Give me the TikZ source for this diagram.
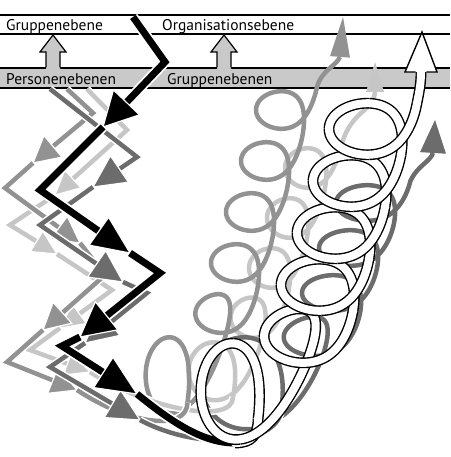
\documentclass[tikz,border=0pt]{standalone}
\usepackage{fontspec}
\setmainfont{PT Sans}
\usetikzlibrary{calc}

\definecolor{bandgray}{HTML}{C9C9C9}
\definecolor{glt}{HTML}{C6C6C6}
\definecolor{gmd}{HTML}{929292}
\definecolor{gdk}{HTML}{6C6C6C}

% filled arrow head: style, back point, tip, length, half width
\newcommand\arrowhd[5]{%
  \filldraw[#1] (#3) -- ($(#3)!#4!(#2)!#5!90:(#3)$)
    -- ($(#3)!#4!(#2)!#5!-90:(#3)$) -- cycle;}
% one leg of a zigzag: line style, head style, start, corner, tip, length, half width
\newcommand\zzseg[7]{%
  \draw[#1] (#3) -- (#4) -- ($(#5)!0.5*#6!(#4)$);
  \arrowhd{#2}{#4}{#5}{#6}{#7}}

\begin{document}
\begin{tikzpicture}[x=1pt, y=-1pt,
    declare function={gg(\s)=\s+sin(360*\s)/6.2832; ww(\s)=1/(1+exp(min(8*(\s-1),9)));},
    rule/.style={line width=1.5pt},
    lbl/.style={inner sep=0pt, anchor=base west, font=\fontsize{15.5}{18}\selectfont},
    zzline/.style={draw=#1, line width=4.5pt, line join=miter,
      preaction={draw=white, line width=7.5pt}},
    zzblack/.style={draw=black, line width=7pt, line join=miter,
      preaction={draw=white, line width=10.5pt}},
    zzhead/.style={fill=#1, draw=white, line width=1.2pt, line join=miter},
    coil/.style={draw=#1, line width=4.5pt},
    tube/.style={draw=white, line width=8pt, line cap=round,
      preaction={draw=black, line width=10.8pt, line cap=butt}},
  ]
\useasboundingbox (0,0) rectangle (450,457);

% levels
\draw[rule] (0,15) -- (450,15);
\draw[rule] (0,34) -- (450,34);
\fill[bandgray] (0,68) rectangle (450,88);
\draw[rule] (0,68) -- (450,68) (0,88) -- (450,88);
\node[lbl] (grpTop) at (6,31) {Gruppenebene};
\node[lbl] (orgTop) at (162,31) {Organisationsebene};
\node[lbl] (persBand) at (6,85) {Personenebenen};
\node[lbl] (grpBand) at (167,85) {Gruppenebenen};
\foreach \x in {53,224} {
  \fill[bandgray] (\x-7,69) -- (\x-7,52) -- (\x-13,52) -- (\x,35)
    -- (\x+13,52) -- (\x+7,52) -- (\x+7,69) -- cycle;
  \draw[line width=1.2pt, line join=miter] (\x-7,67.5) -- (\x-7,52) -- (\x-13,52)
    -- (\x,35) -- (\x+13,52) -- (\x+7,52) -- (\x+7,67.5);
}

% zigzag corners
\foreach \x/\y [count=\i] in {87/89,127/130,55/195,10/225,57/254,112/290,60/328,30/350,90/372,233/397}
  \coordinate (l\i) at (\x,\y);
\foreach \x/\y [count=\i] in {67/89,93/113,33/163,5/188,80/243,105/275,43/330,7/362,77/390,187.5/402.5}
  \coordinate (m\i) at (\x,\y);
\foreach \x/\y [count=\i] in {50/89,137/157,93/187,40/225,123/282,147/293,85/343,50/367,140/420,281.5/407.5}
  \coordinate (d\i) at (\x,\y);
\foreach \x/\y [count=\i] in {133/17,165/62,103/127,40/190,130/253,160/273,80/337,62/346,137/394,235/443}
  \coordinate (k\i) at (\x,\y);

% coils
\coordinate (ltBase) at (375,92);  \coordinate (ltTip) at (375,62);
\coordinate (midBase) at (340,57); \coordinate (midTip) at (343,17);
\coordinate (dkBase) at (433,153); \coordinate (dkTip) at (435,120);
\draw[coil=glt] plot[variable=\s, domain=0:5, samples=400]
    ({228+18*gg(gg(\s))-22*ww(\s)+(24+3*ww(\s))*cos(360*\s)},
     {393-50*gg(gg(\s))+4*ww(\s)-(20+10*ww(\s))*sin(360*\s)})
  .. controls (352,110) and (373,112) .. (ltBase);
\arrowhd{fill=glt, draw=none}{ltBase}{ltTip}{30pt}{9pt}
\draw[coil=gmd] plot[variable=\s, domain=0:6, samples=480]
    ({200.5+15*gg(gg(\s))-38*ww(\s)+(27-2*ww(\s))*cos(360*\s)},
     {390.5-51*gg(gg(\s))+12*ww(\s)-(19+21*ww(\s))*sin(360*\s)})
  .. controls (322,70) and (336,66) .. (midBase);
\arrowhd{fill=gmd, draw=none}{midBase}{midTip}{40pt}{10pt}
\draw[coil=gdk] plot[variable=\s, domain=0:5, samples=400]
    ({292.5+17*gg(gg(\s))-56*ww(\s)+(33+12*ww(\s))*cos(360*\s)},
     {405.5-45*gg(gg(\s))+2*ww(\s)-(18+30*ww(\s))*sin(360*\s)})
  .. controls (418,165) and (430,162) .. (dkBase);
\arrowhd{fill=gdk, draw=none}{dkBase}{dkTip}{33pt}{13pt}

% zigzags
\zzseg{zzline=glt}{zzhead=glt}{l1}{l2}{l3}{24pt}{12pt}
\zzseg{zzline=glt}{zzhead=glt}{l3}{l4}{l5}{24pt}{12pt}
\zzseg{zzline=glt}{zzhead=glt}{l5}{l6}{l7}{24pt}{12pt}
\zzseg{zzline=glt}{zzhead=glt}{l7}{l8}{l9}{24pt}{12pt}
\draw[zzline=glt] (l9) .. controls (150,410) and (233,425) .. (l10);

\zzseg{zzline=gmd}{zzhead=gmd}{m1}{m2}{m3}{26pt}{14pt}
\zzseg{zzline=gmd}{zzhead=gmd}{m3}{m4}{m5}{26pt}{14pt}
\zzseg{zzline=gmd}{zzhead=gmd}{m5}{m6}{m7}{26pt}{14pt}
\zzseg{zzline=gmd}{zzhead=gmd}{m7}{m8}{m9}{26pt}{14pt}
\draw[zzline=gmd] (m9) .. controls (130,425) and (187,432) .. (m10);

\zzseg{zzline=gdk}{zzhead=gdk}{d1}{d2}{d3}{32pt}{16pt}
\zzseg{zzline=gdk}{zzhead=gdk}{d3}{d4}{d5}{32pt}{16pt}
\zzseg{zzline=gdk}{zzhead=gdk}{d5}{d6}{d7}{32pt}{16pt}
\zzseg{zzline=gdk}{zzhead=gdk}{d7}{d8}{d9}{32pt}{16pt}
\draw[zzline=gdk] (d9) .. controls (200,452) and (281,445) .. (d10);

\zzseg{zzblack}{zzhead=black}{k1}{k2}{k3}{34pt}{18pt}
\zzseg{zzblack}{zzhead=black}{k3}{k4}{k5}{38pt}{17pt}
\zzseg{zzblack}{zzhead=black}{k5}{k6}{k7}{34pt}{18pt}
\zzseg{zzblack}{zzhead=black}{k7}{k8}{k9}{40pt}{18pt}
\draw[zzblack] (k9) .. controls (175,425) and (205,443) .. (k10);

% white coil on top
\coordinate (whStart) at (258,419);
\draw[tube] (k10) .. controls (252,443) and (258,435) .. (whStart);
\foreach \a [evaluate=\a as \b using \a+0.25] in {0,0.25,...,5.75}
  \draw[tube] plot[variable=\s, domain=\a:\b, samples=30]
    ({281+16*gg(gg(\s))-56*ww(\s)+(40-7*ww(\s))*cos(360*\s)},
     {415-52*gg(gg(\s))+4*ww(\s)-(26+24*ww(\s))*sin(360*\s)});
\coordinate (whEnd) at (417,103);
\coordinate (whBase) at (421,72);
\coordinate (whTip) at (422,32);
\draw[tube] (whEnd) .. controls (419,93) and (421,84) .. (whBase);
\fill[white] (405,72) -- (whTip) -- (437,72) -- cycle;
\draw[line width=1.4pt, line join=miter] (415.6,72) -- (405,72) -- (whTip) -- (437,72) -- (426.4,72);
\end{tikzpicture}
\end{document}
